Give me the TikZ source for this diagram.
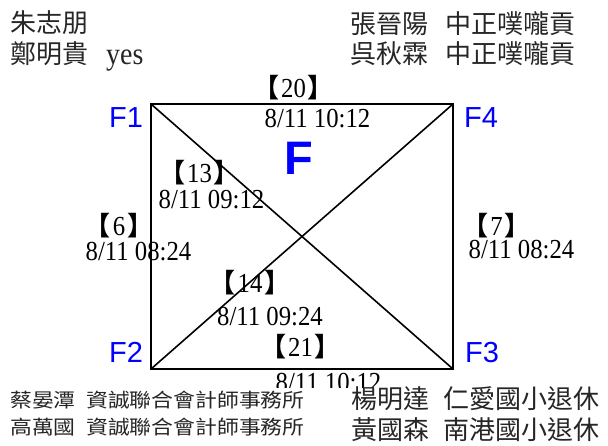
\documentclass[tikz,border=0pt]{standalone}
\usepackage{fontspec}
\setmainfont{Liberation Serif}
\newfontfamily\dtfont{Liberation Serif}[FakeStretch=0.9]
\newfontfamily\cjk{Noto Sans CJK TC}
\newfontfamily\cjkwide{Noto Sans CJK TC}[FakeStretch=1.12]
\newfontfamily\sansf{Liberation Sans}
\newcommand\mylb{{\cjk\bfseries\fontsize{26}{26}\selectfont 【}\kern2pt}
\newcommand\myrb{\kern2pt{\cjk\bfseries\fontsize{26}{26}\selectfont 】}}
\definecolor{fblue}{RGB}{0,0,255}
\tikzset{
  dt/.style={inner sep=0pt, anchor=base, font=\dtfont\fontsize{27.5}{30}\selectfont},
  brk/.style={inner sep=0pt, anchor=base, font=\dtfont\fontsize{27.5}{30}\selectfont},
  nm/.style={inner sep=0pt, anchor=west, font=\cjk\fontsize{26}{28}\selectfont, text=black!85},
  nms/.style={inner sep=0pt, anchor=west, font=\cjkwide\fontsize{19.5}{21}\selectfont, text=black!85},
  flab/.style={inner sep=0pt, anchor=base, font=\sansf\fontsize{29}{30}\selectfont, text=fblue},
  edge/.style={line width=1.6pt, black},
}
\begin{document}
\begin{tikzpicture}[x=1pt,y=-1pt]
\useasboundingbox (0,0) rectangle (608,445);
% corners
\coordinate (c1) at (151,104);
\coordinate (c2) at (151,369);
\coordinate (c3) at (453,369);
\coordinate (c4) at (453,104);
\draw[edge] (c1) -- (c4) -- (c3) -- (c2) -- cycle;
\draw[edge] (c1) -- (c3);
\draw[edge] (c4) -- (c2);
% corner labels
\node[flab] (f1) at (126,127) {F1};
\node[flab] (f4) at (481,127) {F4};
\node[flab] (f2) at (126,362) {F2};
\node[flab] (f3) at (482,362) {F3};
\node[inner sep=0pt, anchor=base, font=\sansf\bfseries\fontsize{47}{50}\selectfont, text=fblue] (bigf) at (299,174) {F};
% edge labels
\node[brk] (b20) at (293.5,97) {\mylb 20\myrb};
\node[dt] (d20) at (317.5,127) {8/11 10:12};
\node[brk] (b13) at (199.5,182) {\mylb 13\myrb};
\node[dt] (d13) at (211.5,208) {8/11 09:12};
\node[brk] (b6) at (119,235) {\mylb 6\myrb};
\node[dt] (d6) at (138.5,260) {8/11 08:24};
\node[brk] (b7) at (496.5,235) {\mylb 7\myrb};
\node[dt] (d7) at (521.5,258) {8/11 08:24};
\node[brk] (b14) at (250,292) {\mylb 14\myrb};
\node[dt] (d14) at (270,325) {8/11 09:24};
\node[brk] (b21) at (300.5,356) {\mylb 21\myrb};
\node[dt] (d21) at (328.5,391) {8/11 10:12};
% white band of the lower text block
\fill[white] (0,388) rectangle (608,445);
% names top
\node[nm] (n1) at (10,23) {朱志朋};
\node[nm] (n2) at (10,54) {鄭明貴};
\node[dt, anchor=base west, text=black!85, font=\dtfont\fontsize{31}{32}\selectfont] (n2b) at (106,64) {yes};
\node[nm] (n3) at (350,24) {張晉陽};
\node[nm] (n3b) at (445,24) {中正噗嚨貢};
\node[nm] (n4) at (350,54) {呉秋霖};
\node[nm] (n4b) at (445,54) {中正噗嚨貢};
% names bottom
\node[nms] (n5) at (10,400) {蔡晏潭};
\node[nms] (n5b) at (86,400) {資誠聯合會計師事務所};
\node[nms] (n6) at (10,427) {高萬國};
\node[nms] (n6b) at (86,427) {資誠聯合會計師事務所};
\node[nm] (n7) at (351,399) {楊明達};
\node[nm] (n7b) at (443,399) {仁愛國小退休};
\node[nm] (n8) at (351,430) {黃國森};
\node[nm] (n8b) at (443,430) {南港國小退休};
\end{tikzpicture}
\end{document}
